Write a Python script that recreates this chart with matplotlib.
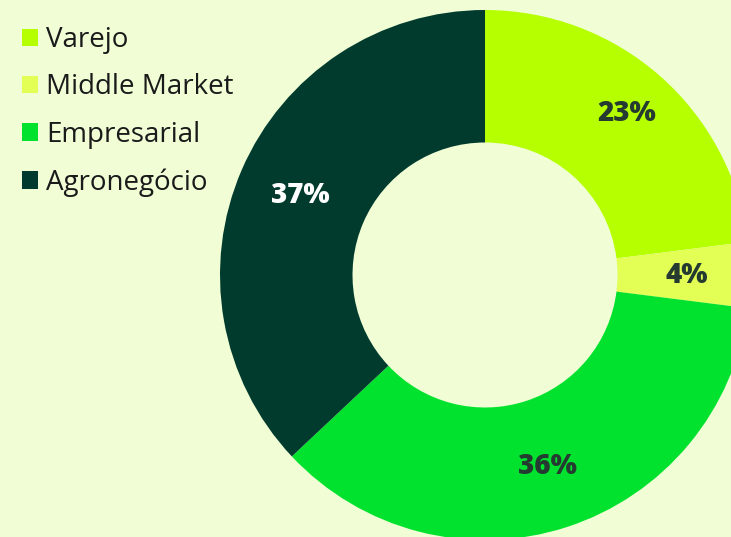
import matplotlib.pyplot as plt
from matplotlib.patches import Patch

categories = ["Varejo", "Middle Market", "Empresarial", "Agronegócio"]
shares = [23, 4, 36, 37]
colors = ["#b5ff00", "#e3ff55", "#00e22d", "#003b2e"]
label_colors = ["#253a30", "#253a30", "#253a30", "#ffffff"]
bg = "#f0fdd5"

plt.rcParams["font.family"] = ["Open Sans", "DejaVu Sans"]

W, H = 731, 537
fig = plt.figure(figsize=(W / 100, H / 100), dpi=100, facecolor=bg)

# donut axes: center at (485, 275) px, radius 265 px
cx, cy, r = 485, 275, 265
ax = fig.add_axes([(cx - r) / W, (H - cy - r) / H, 2 * r / W, 2 * r / H])
ax.set_facecolor(bg)

wedges, texts, autotexts = ax.pie(
    shares, colors=colors, startangle=90, counterclock=False,
    radius=1.0, wedgeprops=dict(width=0.5, linewidth=0),
    autopct=lambda p: f"{p:.0f}%", pctdistance=0.76,
)
for t, c in zip(autotexts, label_colors):
    t.set_color(c)
    t.set_fontsize(20)
    t.set_fontweight("heavy")
# first label sits a bit further out in the original
x0, y0 = autotexts[0].get_position()
autotexts[0].set_position((x0 * 0.81 / 0.76, y0 * 0.81 / 0.76))

ax.set_xlim(-1, 1)
ax.set_ylim(-1, 1)
ax.set_aspect("equal")
ax.axis("off")

handles = [Patch(facecolor=c, edgecolor="none") for c in colors]
fig.legend(handles, categories, loc="upper left", bbox_to_anchor=(22 / W, 1 - 26 / H),
           frameon=False, fontsize=20, handlelength=0.58, handleheight=0.58,
           handletextpad=0.3, labelspacing=0.7, borderpad=0, borderaxespad=0,
           labelcolor="#1a1a1a")

fig.savefig("out.png", dpi=100, facecolor=bg)
